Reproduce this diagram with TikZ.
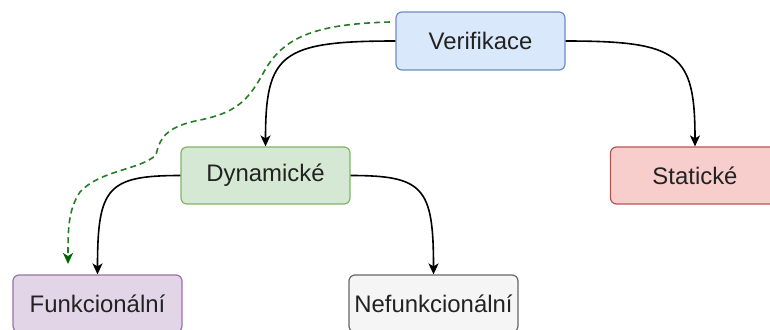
\documentclass[tikz,border=0pt]{standalone}
\usepackage{fontspec}
\setmainfont{Liberation Sans}
\usetikzlibrary{arrows.meta,calc}
\definecolor{vfill}{HTML}{DAE8FC}\definecolor{vdraw}{HTML}{6C8EBF}
\definecolor{dfill}{HTML}{D5E8D4}\definecolor{ddraw}{HTML}{82B366}
\definecolor{sfill}{HTML}{F8CECC}\definecolor{sdraw}{HTML}{B85450}
\definecolor{ffill}{HTML}{E1D5E7}\definecolor{fdraw}{HTML}{9673A6}
\definecolor{nfill}{HTML}{F5F5F5}\definecolor{ndraw}{HTML}{666666}
\definecolor{dgreen}{HTML}{006600}
\definecolor{txt}{HTML}{222222}
\tikzset{
  box/.style={rounded corners=6bp, line width=1.2bp, minimum width=169bp, minimum height=57bp,
    inner sep=0pt, text=txt, font=\fontsize{24}{28}\selectfont},
  link/.style={line width=1.6bp, -{Stealth[length=11bp,width=10bp,inset=3bp]}},
  hint/.style={line width=1.6bp, dgreen!85, dash pattern=on 6bp off 4bp,
    -{Stealth[length=11bp,width=10bp,inset=3bp,color=dgreen,fill=dgreen]}}
}
\newcommand{\curvelink}[2]{%
  \draw[link] (#1) .. controls ($(#1)!0.88!(#2 |- #1)$) and ($(#2)!0.88!(#2 |- #1)$) .. (#2);}
\begin{document}
\begin{tikzpicture}[x=1bp,y=-1bp]
\useasboundingbox (0,0) rectangle (770,329);
\node[box, fill=vfill, draw=vdraw, minimum height=58bp] (ver) at (480.5,41) {Verifikace};
\node[box, fill=dfill, draw=ddraw] (dyn) at (265.5,175.5) {Dynamické};
\node[box, fill=sfill, draw=sdraw] (sta) at (695,175.5) {Statické};
\node[box, fill=ffill, draw=fdraw] (fun) at (97.5,303.5) {Funkcionální};
\node[box, fill=nfill, draw=ndraw] (nef) at (433.5,303.5) {Nefunkcionální};

\curvelink{ver.west}{dyn.north}
\curvelink{ver.east}{sta.north}
\curvelink{dyn.west}{fun.north}
\curvelink{dyn.east}{nef.north}

\coordinate (hs) at (390,22);
\coordinate (he) at (68,264);
\draw[hint] (hs) .. controls (320,24) and (285,35) .. (265,70)
  .. controls (250,97) and (240,112) .. (200,120)
  .. controls (170,126) and (160,135) .. (156,155)
  .. controls (140,170) and (100,170) .. (80,192)
  .. controls (68,210) and (68,230) .. (he);
\end{tikzpicture}
\end{document}
